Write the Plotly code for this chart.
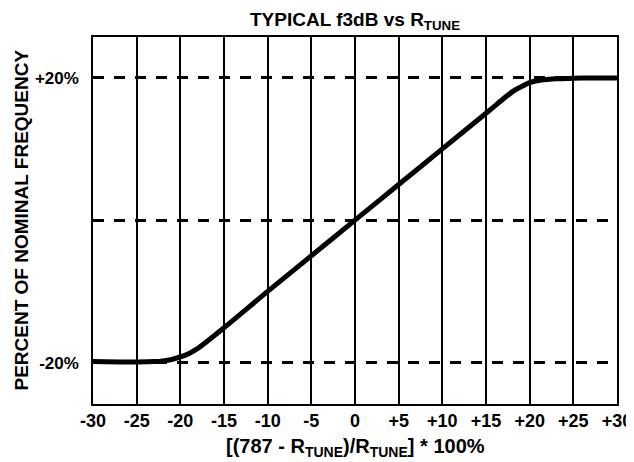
import plotly.graph_objects as go

# Data
x_vals = [-30, -27, -25, -23, -22, -21, -20, -19, -18, -15, -10, -5, 0,
          5, 10, 15, 18, 19, 20, 21, 22, 23, 25, 27, 30]
y_vals = [-19.85, -19.9, -19.9, -19.85, -19.75, -19.55, -19.2, -18.7, -18.0,
          -15.1, -10.0, -5.0, 0.0, 5.0, 10.0, 15.0, 18.0, 18.7, 19.3, 19.6,
          19.75, 19.85, 19.9, 19.95, 19.95]

x_ticks = [-30, -25, -20, -15, -10, -5, 0, 5, 10, 15, 20, 25, 30]
x_tick_labels = ["-30", "-25", "-20", "-15", "-10", "-5", "0",
                 "+5", "+10", "+15", "+20", "+25", "+30"]
y_ticks = [-20, 0, 20]
y_tick_labels = ["-20%", "", "+20%"]

title_text = "<b>TYPICAL f3dB vs R<sub>TUNE</sub></b>"
x_title = "<b>[(787 - R<sub>TUNE</sub>)/R<sub>TUNE</sub>] * 100%</b>"
y_title = "<b>PERCENT OF NOMINAL FREQUENCY</b>"

FONT = "Liberation Sans, Arial, sans-serif"

fig = go.Figure()
fig.add_trace(go.Scatter(
    x=x_vals, y=y_vals, mode="lines",
    line=dict(color="black", width=5, shape="spline", smoothing=0.8),
    hoverinfo="skip", showlegend=False,
))

# the page body has an 8px margin; the figure is offset by it
fig.update_layout(
    width=626, height=454,
    margin=dict(l=85, r=17, t=29, b=58, autoexpand=False),
    paper_bgcolor="white", plot_bgcolor="white",
    font=dict(family=FONT, color="black", size=16),
    showlegend=False,
)

fig.update_xaxes(
    range=[-30, 30], tickvals=x_ticks,
    ticktext=["<b>%s</b>" % t for t in x_tick_labels],
    showgrid=True, gridcolor="black", gridwidth=1.5,
    zeroline=False, showline=True, linecolor="black", linewidth=1.5,
    mirror=True, ticks="", ticklabelstandoff=0, automargin=False,
    ticklabeloverflow="allow",
    tickfont=dict(family=FONT, size=18, color="black"),
)
fig.update_yaxes(
    range=[-25.8, 25.7], tickvals=y_ticks,
    ticktext=["<b>%s</b>" % t if t else "" for t in y_tick_labels],
    showgrid=True, gridcolor="black", gridwidth=3, griddash="11px,10px",
    zeroline=False, showline=True, linecolor="black", linewidth=1.5,
    mirror=True, ticks="", ticklabelstandoff=9, automargin=False,
    tickfont=dict(family=FONT, size=17, color="black"),
)

fig.add_annotation(text=title_text, xref="paper", yref="paper",
                   x=0.5, y=1.044, xanchor="center", yanchor="middle",
                   showarrow=False, font=dict(family=FONT, size=19, color="black"))
fig.add_annotation(text=x_title, xref="paper", yref="paper",
                   x=0.5, y=-0.118, xanchor="center", yanchor="middle",
                   showarrow=False, font=dict(family=FONT, size=20, color="black"))
fig.add_annotation(text=y_title, xref="paper", yref="paper",
                   x=-0.1374, y=0.5, xanchor="center", yanchor="middle",
                   textangle=-90, showarrow=False,
                   font=dict(family=FONT, size=19, color="black"))

fig.write_html("out.html")
